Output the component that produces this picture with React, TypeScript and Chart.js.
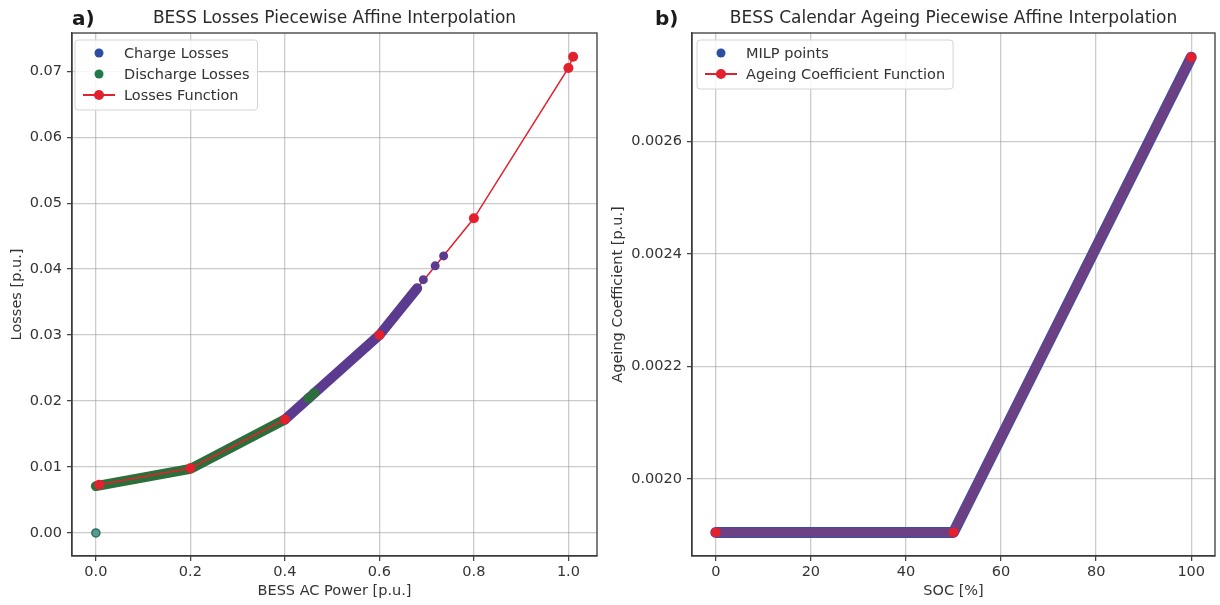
import React, { useEffect, useRef } from "react";
import { Chart, registerables } from "chart.js";

Chart.register(...registerables);

// ---------- Panel a) BESS losses ----------
const lossFnX = [0.007, 0.2, 0.4, 0.6, 0.8, 1.0, 1.01];
const lossFnY = [0.0073, 0.0098, 0.0172, 0.03, 0.0477, 0.0705, 0.0722];

const dischargeBandX = [0.0, 0.2, 0.4];
const dischargeBandY = [0.0071, 0.0097, 0.0172];
const dischargeDotsX = [0.45, 0.462];
const dischargeDotsY = [0.0204, 0.0212];

const chargeBandX = [0.4, 0.6, 0.68];
const chargeBandY = [0.0172, 0.03, 0.0371];
const chargeDotsX = [0.693, 0.718, 0.736];
const chargeDotsY = [0.0384, 0.0405, 0.042];

const zeroPowerX = [0.0];
const zeroPowerY = [0.0];

const powerTicks = [0.0, 0.2, 0.4, 0.6, 0.8, 1.0];
const lossTicks = [0.0, 0.01, 0.02, 0.03, 0.04, 0.05, 0.06, 0.07];

// ---------- Panel b) calendar ageing ----------
const socX = [0, 50, 100];
const ageingY = [0.001905, 0.001905, 0.00275];
const milpSocX = [0, 50, 100];
const milpAgeingY = [0.001905, 0.001905, 0.00275];

const socTicks = [0, 20, 40, 60, 80, 100];
const ageingTicks = [0.002, 0.0022, 0.0024, 0.0026];

// ---------- styling ----------
const FONT = '"DejaVu Sans", sans-serif';
const RED = "#e3202e";
const GREEN_BAND = "#2d6f3a";
const GREEN_DOT = "#1f7a4a";
const PURPLE = "#5b3b8f";
const BLUE = "#2d4ea0";
const BLUE_BAND = "#3a4ea8";
const TEXT = "#333333";
const GRID = "rgba(160,160,160,0.55)";
const AXIS = "#3a3a3a";
const AXIS_FONT = 14.5;

Chart.defaults.font.family = FONT;
Chart.defaults.color = TEXT;

const pts = (xs: number[], ys: number[]) => xs.map((x, i) => ({ x, y: ys[i] }));

type LegendEntry = { label: string; kind: "dot" | "line"; color: string };

function decorPlugin(tag: string, tagX: number, title: string, legendX: number, legend: LegendEntry[]) {
  return {
    id: "panelDecor",
    afterDraw(chart: any) {
      const { ctx, chartArea: a } = chart;
      ctx.save();
      // frame on all four sides
      ctx.strokeStyle = AXIS;
      ctx.lineWidth = 1.3;
      ctx.strokeRect(a.left, a.top, a.right - a.left, a.bottom - a.top);

      // panel tag and title
      ctx.fillStyle = "#1a1a1a";
      ctx.textBaseline = "alphabetic";
      ctx.textAlign = "left";
      ctx.font = `bold 20px ${FONT}`;
      ctx.fillText(tag, tagX, 25);
      ctx.fillStyle = "#2a2a2a";
      ctx.font = `17px ${FONT}`;
      ctx.textAlign = "center";
      ctx.fillText(title, (a.left + a.right) / 2, 23);

      // legend box
      ctx.font = `${AXIS_FONT}px ${FONT}`;
      const rowH = 21;
      const top = 40;
      const textOff = 49;
      const maxW = Math.max(...legend.map((e) => ctx.measureText(e.label).width));
      const w = textOff + maxW + 8;
      const h = legend.length * rowH + 7;
      ctx.beginPath();
      ctx.roundRect(legendX, top, w, h, 3);
      ctx.fillStyle = "rgba(255,255,255,0.85)";
      ctx.fill();
      ctx.strokeStyle = "#d4d4d4";
      ctx.lineWidth = 1;
      ctx.stroke();

      legend.forEach((e, i) => {
        const cy = top + 13 + i * rowH;
        const cx = legendX + 24;
        if (e.kind === "line") {
          ctx.strokeStyle = e.color;
          ctx.lineWidth = 2;
          ctx.beginPath();
          ctx.moveTo(legendX + 8, cy);
          ctx.lineTo(legendX + 40, cy);
          ctx.stroke();
          ctx.fillStyle = e.color;
          ctx.beginPath();
          ctx.arc(cx, cy, 5, 0, Math.PI * 2);
          ctx.fill();
        } else {
          ctx.fillStyle = e.color;
          ctx.beginPath();
          ctx.arc(cx, cy, 4.5, 0, Math.PI * 2);
          ctx.fill();
        }
        ctx.fillStyle = TEXT;
        ctx.textAlign = "left";
        ctx.textBaseline = "middle";
        ctx.fillText(e.label, legendX + textOff, cy + 1);
      });
      ctx.restore();
    },
  };
}

function axis(opts: {
  min: number;
  max: number;
  ticks: number[];
  digits: number;
  title: string;
  size: number;
  horizontal: boolean;
  titlePad: number;
}) {
  return {
    type: "linear" as const,
    min: opts.min,
    max: opts.max,
    afterBuildTicks: (s: any) => {
      s.ticks = opts.ticks.map((v) => ({ value: v }));
    },
    afterFit: (s: any) => {
      if (opts.horizontal) s.height = opts.size;
      else s.width = opts.size;
    },
    ticks: {
      autoSkip: false,
      maxRotation: 0,
      padding: opts.horizontal ? 3 : 5,
      color: TEXT,
      font: { size: AXIS_FONT },
      callback: (v: any) => Number(v).toFixed(opts.digits),
    },
    grid: {
      color: GRID,
      lineWidth: 1.3,
      tickColor: AXIS,
      tickLength: 5,
      tickWidth: 1.2,
    },
    border: { color: AXIS, width: 1.3 },
    title: {
      display: true,
      text: opts.title,
      color: TEXT,
      font: { size: AXIS_FONT },
      padding: opts.horizontal ? { top: 0, bottom: opts.titlePad } : { top: opts.titlePad, bottom: 0 },
    },
  };
}

const band = (data: any[], color: string, width: number, order: number) => ({
  data,
  borderColor: color,
  backgroundColor: color,
  borderWidth: width,
  borderCapStyle: "round" as const,
  borderJoinStyle: "round" as const,
  pointRadius: 0,
  order,
});

const dots = (data: any[], color: string, radius: number, order: number) => ({
  data,
  showLine: false,
  backgroundColor: color,
  borderColor: color,
  borderWidth: 0,
  pointRadius: radius,
  order,
});

function lossesConfig(): any {
  return {
    type: "line",
    data: {
      datasets: [
        { label: "Discharge Losses", ...band(pts(dischargeBandX, dischargeBandY), GREEN_BAND, 10, 7) },
        {
          label: "Losses Function",
          data: pts(lossFnX, lossFnY),
          borderColor: RED,
          borderWidth: 1.5,
          pointRadius: 0,
          order: 6,
        },
        { label: "Charge Losses", ...band(pts(chargeBandX, chargeBandY), PURPLE, 10, 5) },
        { label: "Charge Losses", ...dots(pts(chargeDotsX, chargeDotsY), PURPLE, 4.5, 4) },
        { label: "Discharge Losses", ...dots(pts(dischargeDotsX, dischargeDotsY), GREEN_BAND, 5, 3) },
        { label: "Losses Function", ...dots(pts(lossFnX, lossFnY), RED, 5, 2) },
        {
          label: "Discharge Losses",
          data: pts(zeroPowerX, zeroPowerY),
          showLine: false,
          backgroundColor: "#5a9a90",
          borderColor: "#2a6e62",
          borderWidth: 1.5,
          pointRadius: 4,
          order: 1,
        },
      ],
    },
    options: {
      animation: false,
      responsive: false,
      events: [],
      layout: { padding: { top: 33, right: 13, bottom: 0, left: 0 } },
      elements: { line: { tension: 0 } },
      plugins: { legend: { display: false }, tooltip: { enabled: false } },
      scales: {
        x: axis({
          min: -0.0505,
          max: 1.0605,
          ticks: powerTicks,
          digits: 1,
          title: "BESS AC Power [p.u.]",
          size: 49,
          horizontal: true,
          titlePad: 5,
        }),
        y: axis({
          min: -0.0035,
          max: 0.0758,
          ticks: lossTicks,
          digits: 2,
          title: "Losses [p.u.]",
          size: 72,
          horizontal: false,
          titlePad: 9,
        }),
      },
    },
    plugins: [
      decorPlugin("a)", 72, "BESS Losses Piecewise Affine Interpolation", 75, [
        { label: "Charge Losses", kind: "dot", color: BLUE },
        { label: "Discharge Losses", kind: "dot", color: GREEN_DOT },
        { label: "Losses Function", kind: "line", color: RED },
      ]),
    ],
  };
}

function ageingConfig(): any {
  return {
    type: "line",
    data: {
      datasets: [
        { label: "MILP points", ...band(pts(milpSocX, milpAgeingY), BLUE_BAND, 11, 3) },
        {
          label: "Ageing Coefficient Function",
          data: pts(socX, ageingY),
          borderColor: "rgba(226,32,46,0.3)",
          borderWidth: 9,
          borderCapStyle: "round",
          borderJoinStyle: "round",
          pointRadius: 0,
          order: 2,
        },
        { label: "Ageing Coefficient Function", ...dots(pts(socX, ageingY), RED, 5, 1) },
      ],
    },
    options: {
      animation: false,
      responsive: false,
      events: [],
      layout: { padding: { top: 33, right: 2, bottom: 0, left: 0 } },
      elements: { line: { tension: 0 } },
      plugins: { legend: { display: false }, tooltip: { enabled: false } },
      scales: {
        x: axis({
          min: -5,
          max: 105,
          ticks: socTicks,
          digits: 0,
          title: "SOC [%]",
          size: 49,
          horizontal: true,
          titlePad: 5,
        }),
        y: axis({
          min: 0.001863,
          max: 0.002793,
          ticks: ageingTicks,
          digits: 4,
          title: "Ageing Coefficient [p.u.]",
          size: 82,
          horizontal: false,
          titlePad: 0,
        }),
      },
    },
    plugins: [
      decorPlugin("b)", 45, "BESS Calendar Ageing Piecewise Affine Interpolation", 87, [
        { label: "MILP points", kind: "dot", color: BLUE },
        { label: "Ageing Coefficient Function", kind: "line", color: RED },
      ]),
    ],
  };
}

export default function App() {
  const refA = useRef<HTMLCanvasElement>(null);
  const refB = useRef<HTMLCanvasElement>(null);

  useEffect(() => {
    const a = new Chart(refA.current!, lossesConfig());
    const b = new Chart(refB.current!, ageingConfig());
    return () => {
      a.destroy();
      b.destroy();
    };
  }, []);

  return (
    <div style={{ position: "fixed", left: 0, top: 0, width: 1220, height: 605, background: "#ffffff" }}>
      <canvas ref={refA} width={610} height={605} style={{ position: "absolute", left: 0, top: 0 }} />
      <canvas ref={refB} width={610} height={605} style={{ position: "absolute", left: 610, top: 0 }} />
    </div>
  );
}
